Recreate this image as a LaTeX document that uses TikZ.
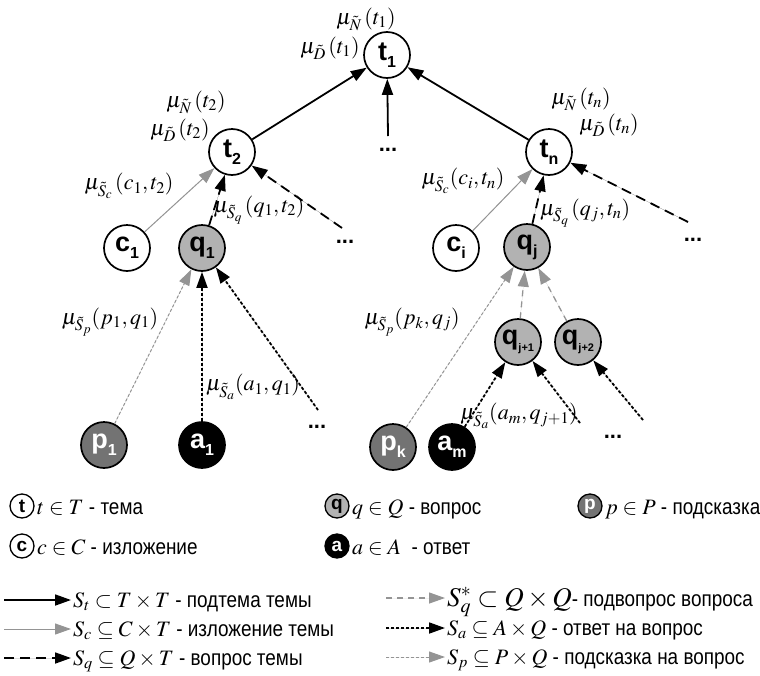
\documentclass[tikz,border=0pt]{standalone}
\usepackage{mathptmx}
\usepackage[no-math]{fontspec}
\setmainfont{Liberation Sans}
\newfontfamily\legfont{Liberation Sans}[FakeStretch=0.86]
\usetikzlibrary{arrows.meta}
\definecolor{qgray}{gray}{0.70}
\definecolor{pgray}{gray}{0.45}
\definecolor{egray}{gray}{0.58}
\newcommand\nsub[1]{\raisebox{-0.5ex}{\fontsize{16}{16}\selectfont #1}}
\newcommand\nsubs[1]{\raisebox{-0.5ex}{\fontsize{11}{11}\selectfont #1}}
\newcommand\lm[1]{{\fontsize{22}{22}\selectfont$#1$}}
\newcommand\lmb[1]{{\fontsize{27}{27}\selectfont$#1$}}
\tikzset{
  base/.style={circle, draw=black, line width=1.7pt, minimum size=46pt, inner sep=0pt,
    font=\fontsize{27}{27}\selectfont\bfseries},
  tnd/.style={base, fill=white},
  qnd/.style={base, fill=qgray},
  pnd/.style={base, fill=pgray, text=white},
  and/.style={base, fill=black, text=white},
  lg/.style={circle, draw=black, line width=1.3pt, minimum size=24pt, inner sep=0pt,
    font=\fontsize{19}{19}\selectfont\bfseries},
  dots/.style={inner sep=0pt, font=\fontsize{22}{22}\selectfont\bfseries},
  lbl/.style={inner sep=0pt, font=\fontsize{22}{22}\selectfont},
  lgtext/.style={inner sep=0pt, anchor=base west, font=\legfont\fontsize{22}{22}\selectfont},
  tip/.style={-{Triangle[length=16pt,width=11pt]}},
  St/.style={tip, line width=1.8pt, draw=black, fill=black},
  Sc/.style={tip, line width=1pt, draw=egray, fill=egray},
  Sq/.style={tip, line width=1.8pt, draw=black, fill=black, dash pattern=on 10pt off 6pt},
  Sqs/.style={tip, line width=1.3pt, draw=egray, fill=egray, dash pattern=on 6pt off 5pt},
  Sa/.style={tip, line width=1.8pt, draw=black, fill=black, dash pattern=on 3pt off 2pt},
  Sp/.style={tip, line width=1pt, draw=egray, fill=egray, dash pattern=on 3pt off 2pt},
}
\begin{document}
\begin{tikzpicture}[x=1pt,y=-1pt]
\useasboundingbox (0,0) rectangle (760,675);
% tree nodes
\node[tnd] (t1) at (387,55) {t\nsub{1}};
\node[tnd] (t2) at (232,152) {t\nsub{2}};
\node[tnd] (tn) at (549,152) {t\nsub{n}};
\node[tnd] (c1) at (127,248) {c\nsub{1}};
\node[qnd] (q1) at (202,248) {q\nsub{1}};
\node[tnd] (ci) at (456,248) {c\nsub{i}};
\node[qnd] (qj) at (527,247) {q\nsub{j}};
\node[qnd] (qj1) at (518,342) {q\nsubs{j+1}};
\node[qnd] (qj2) at (578,342) {q\nsubs{j+2}};
\node[pnd] (p1) at (104,445) {p\nsub{1}};
\node[and] (a1) at (202,445) {a\nsub{1}};
\node[pnd] (pk) at (393,447) {p\nsub{k}};
\node[and] (am) at (452,447) {a\nsub{m}};
% dots
\node[dots] (dtop) at (388,150) {...};
\node[dots] (dL1) at (345,242) {...};
\node[dots] (dR1) at (693,240) {...};
\node[dots] (dL2) at (317,427) {...};
\node[dots] (dR2) at (613,437) {...};
\coordinate (stop) at (388,136);
\coordinate (sL1) at (342,228);
\coordinate (sR1) at (688,222);
\coordinate (sL2) at (318,410);
\coordinate (sR2a) at (580,423);
\coordinate (sR2b) at (643,420);
% edges
\draw[St] (t2) -- (t1);
\draw[St] (stop) -- (t1);
\draw[St] (tn) -- (t1);
\draw[Sc] (c1) -- (t2);
\draw[Sq] (q1) -- (t2);
\draw[Sq] (sL1) -- (t2);
\draw[Sc] (ci) -- (tn);
\draw[Sq] (qj) -- (tn);
\draw[Sq] (sR1) -- (tn);
\draw[Sp] (p1) -- (q1);
\draw[Sa] (a1) -- (q1);
\draw[Sa] (sL2) -- (q1);
\draw[Sp] (pk) -- (qj);
\draw[Sqs] (qj1) -- (qj);
\draw[Sqs] (qj2) -- (qj);
\draw[Sa] (am) -- (qj1);
\draw[Sa] (sR2a) -- (qj1);
\draw[Sa] (sR2b) -- (qj2);
% labels
\node[lbl] (muNt1) at (366,19) {$\mu_{\tilde N}\,(t_1)$};
\node[lbl] (muDt1) at (330,48) {$\mu_{\tilde D}\,(t_1)$};
\node[lbl] (muNt2) at (196,102) {$\mu_{\tilde N}\,(t_2)$};
\node[lbl] (muDt2) at (180,130) {$\mu_{\tilde D}\,(t_2)$};
\node[lbl] (muNtn) at (581,99) {$\mu_{\tilde N}\,(t_n)$};
\node[lbl] (muDtn) at (609,125) {$\mu_{\tilde D}\,(t_n)$};
\node[lbl] (muSc1) at (129,186) {$\mu_{\tilde S_c}\,(c_1,t_2)$};
\node[lbl] (muSq1) at (259,210) {$\mu_{\tilde S_q}\,(q_1,t_2)$};
\node[lbl] (muSci) at (463,181) {$\mu_{\tilde S_c}(c_i,t_n)$};
\node[lbl] (muSqj) at (585,213) {$\mu_{\tilde S_q}\,(q_j,t_n)$};
\node[lbl] (muSp1) at (110,322) {$\mu_{\tilde S_p}(p_1,q_1)$};
\node[lbl] (muSa1) at (253,387) {$\mu_{\tilde S_a}(a_1,q_1)$};
\node[lbl] (muSpk) at (412,322) {$\mu_{\tilde S_p}(p_k,q_j)$};
\node[lbl] (muSam) at (519,416) {$\mu_{\tilde S_a}(a_m,q_{j+1})$};
% legend: node kinds
\node[lg, fill=white] (Lt) at (22,506) {t};
\node[lgtext] (Ltx) at (37,514) {\lm{t\in T} - тема};
\node[lg, fill=white] (Lc) at (22,546) {c};
\node[lgtext] (Lcx) at (37,554) {\lm{c\in C} - изложение};
\node[lg, fill=qgray] (Lq) at (337,506) {q};
\node[lgtext] (Lqx) at (352,514) {\lm{q\in Q} - вопрос};
\node[lg, fill=black, text=white] (La) at (337,546) {a};
\node[lgtext] (Lax) at (352,554) {\lm{a\in A} \ - ответ};
\node[lg, fill=pgray, text=white] (Lp) at (590,506) {p};
\node[lgtext] (Lpx) at (605,514) {\lm{p\in P} - подсказка};
% legend: relations
\coordinate (LA1s) at (4,600);  \coordinate (LA1e) at (71,600);
\coordinate (LA2s) at (4,629);  \coordinate (LA2e) at (71,629);
\coordinate (LA3s) at (4,658);  \coordinate (LA3e) at (71,658);
\coordinate (LB1s) at (386,598); \coordinate (LB1e) at (445,598);
\coordinate (LB2s) at (386,628); \coordinate (LB2e) at (445,628);
\coordinate (LB3s) at (386,657); \coordinate (LB3e) at (445,657);
\draw[St]  (LA1s) -- (LA1e);
\draw[Sc]  (LA2s) -- (LA2e);
\draw[Sq]  (LA3s) -- (LA3e);
\draw[Sqs] (LB1s) -- (LB1e);
\draw[Sa]  (LB2s) -- (LB2e);
\draw[Sp]  (LB3s) -- (LB3e);
\node[lgtext] (LA1t) at (73,607) {\lm{S_t\subset T\times T} - подтема темы};
\node[lgtext] (LA2t) at (73,636) {\lm{S_c\subseteq C\times T} - изложение темы};
\node[lgtext] (LA3t) at (73,665) {\lm{S_q\subseteq Q\times T} - вопрос темы};
\node[lgtext] (LB1t) at (447,606) {\lmb{S_q^{*}\subset Q\times Q}- подвопрос вопроса};
\node[lgtext] (LB2t) at (447,635) {\lm{S_a\subseteq A\times Q} - ответ на вопрос};
\node[lgtext] (LB3t) at (447,664) {\lm{S_p\subseteq P\times Q} - подсказка на вопрос};
\end{tikzpicture}
\end{document}
